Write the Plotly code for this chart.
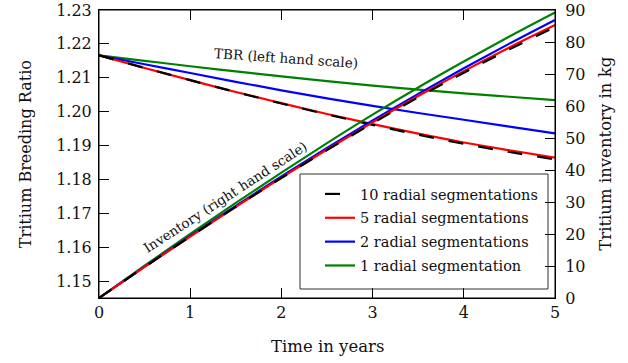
import plotly.graph_objects as go

years = [0, 0.5, 1, 1.5, 2, 2.5, 3, 3.5, 4, 4.5, 5]

tbr_10 = [1.2166, 1.2129, 1.2093, 1.2058, 1.2024, 1.1992, 1.1961, 1.1932, 1.1905, 1.1881, 1.1859]
tbr_5 = [1.2166, 1.2129, 1.2093, 1.2058, 1.2025, 1.1993, 1.1963, 1.1935, 1.1909, 1.1886, 1.1864]
tbr_2 = [1.2166, 1.2140, 1.2114, 1.2088, 1.2063, 1.2039, 1.2017, 1.1996, 1.1976, 1.1956, 1.1936]
tbr_1 = [1.2166, 1.2150, 1.2134, 1.2119, 1.2104, 1.2090, 1.2077, 1.2065, 1.2054, 1.2044, 1.2034]

inv_10 = [0, 9.7, 19.2, 28.5, 37.5, 46.2, 54.6, 62.7, 70.4, 77.7, 84.7]
inv_5 = [0, 9.7, 19.2, 28.5, 37.6, 46.4, 54.9, 63.1, 70.9, 78.3, 85.3]
inv_2 = [0, 9.8, 19.4, 28.8, 38.0, 46.9, 55.5, 63.8, 71.8, 79.5, 86.9]
inv_1 = [0, 10.1, 20.0, 29.7, 39.2, 48.4, 57.3, 65.8, 73.9, 81.7, 89.2]

names = ["10 radial segmentations", "5 radial segmentations",
         "2 radial segmentations", "1 radial segmentation"]
colors = ["#000000", "#ff0000", "#0000ff", "#008000"]
dashes = ["15px,15px", "solid", "solid", "solid"]
tbr_series = [tbr_10, tbr_5, tbr_2, tbr_1]
inv_series = [inv_10, inv_5, inv_2, inv_1]

FONT = "DejaVu Serif"
TXT = "#111111"

fig = go.Figure()
# draw from last to first so black is on top
for i in [3, 2, 1, 0]:
    fig.add_trace(go.Scatter(x=years, y=tbr_series[i], mode="lines", name=names[i],
                             line=dict(color=colors[i], width=2.2, dash=dashes[i],
                                       shape="spline", smoothing=1),
                             legendrank=i + 1, legendgroup=names[i], showlegend=True))
    fig.add_trace(go.Scatter(x=years, y=inv_series[i], mode="lines", name=names[i],
                             line=dict(color=colors[i], width=2.2, dash=dashes[i],
                                       shape="spline", smoothing=1),
                             yaxis="y2", legendgroup=names[i], showlegend=False))

axis_common = dict(ticks="inside", ticklen=10, showline=True, linecolor="black",
                   linewidth=1, showgrid=False, zeroline=False, tickcolor="black",
                   automargin=False, ticklabeloverflow="allow", tickfont=dict(size=16))

fig.update_layout(
    width=628, height=363,
    margin=dict(l=99, r=73, t=10, b=65),
    paper_bgcolor="white", plot_bgcolor="white",
    font=dict(family=FONT, size=15, color=TXT),
    xaxis=dict(range=[0, 5], dtick=1, tick0=0, mirror="ticks", **axis_common),
    yaxis=dict(range=[1.145, 1.2300001], dtick=0.01, tick0=1.15, tickformat=".2f",
               mirror=True, ticklabelstandoff=3, **axis_common),
    yaxis2=dict(range=[0, 90], dtick=10, tick0=0, overlaying="y", side="right",
                ticklabelstandoff=6, **axis_common),
    legend=dict(x=(320 - 99) / 456, y=(298 - 178) / 288, xanchor="left", yanchor="top",
                bgcolor="rgba(0,0,0,0)", borderwidth=0,
                font=dict(size=14.5), tracegroupgap=2, itemwidth=30),
    showlegend=True,
)

# frame around the plot area
fig.add_shape(type="rect", xref="paper", yref="paper", x0=0, x1=1, y0=0, y1=1,
              line=dict(color="black", width=1), fillcolor="rgba(0,0,0,0)",
              layer="above")
# legend frame
fig.add_shape(type="rect", xref="paper", yref="paper",
              x0=(300 - 99) / 456, x1=(548 - 99) / 456,
              y0=(298 - 289) / 288, y1=(298 - 174) / 288,
              line=dict(color="#333333", width=1), fillcolor="rgba(0,0,0,0)")

fig.add_annotation(text="TBR (left hand scale)", xref="paper", yref="paper",
                   x=0.409, y=0.833, xanchor="center", yanchor="middle",
                   showarrow=False, textangle=4, font=dict(size=13.5))
fig.add_annotation(text="Inventory (right hand scale)", xref="paper", yref="paper",
                   x=0.276, y=0.352, xanchor="center", yanchor="middle",
                   showarrow=False, textangle=-33, font=dict(size=13.5))
fig.add_annotation(text="Time in years", xref="paper", yref="paper",
                   x=0.5, y=-0.17, xanchor="center", yanchor="middle", showarrow=False,
                   font=dict(size=16.5))
fig.add_annotation(text="Tritium Breeding Ratio", xref="paper", yref="paper",
                   x=-0.162, y=0.5, xanchor="center", yanchor="middle",
                   showarrow=False, textangle=-90, font=dict(size=16))
fig.add_annotation(text="Tritium inventory in kg", xref="paper", yref="paper",
                   x=1.109, y=0.5, xanchor="center", yanchor="middle",
                   showarrow=False, textangle=-90, font=dict(size=16.5))

fig.write_html("out.html", config={"displayModeBar": False})
